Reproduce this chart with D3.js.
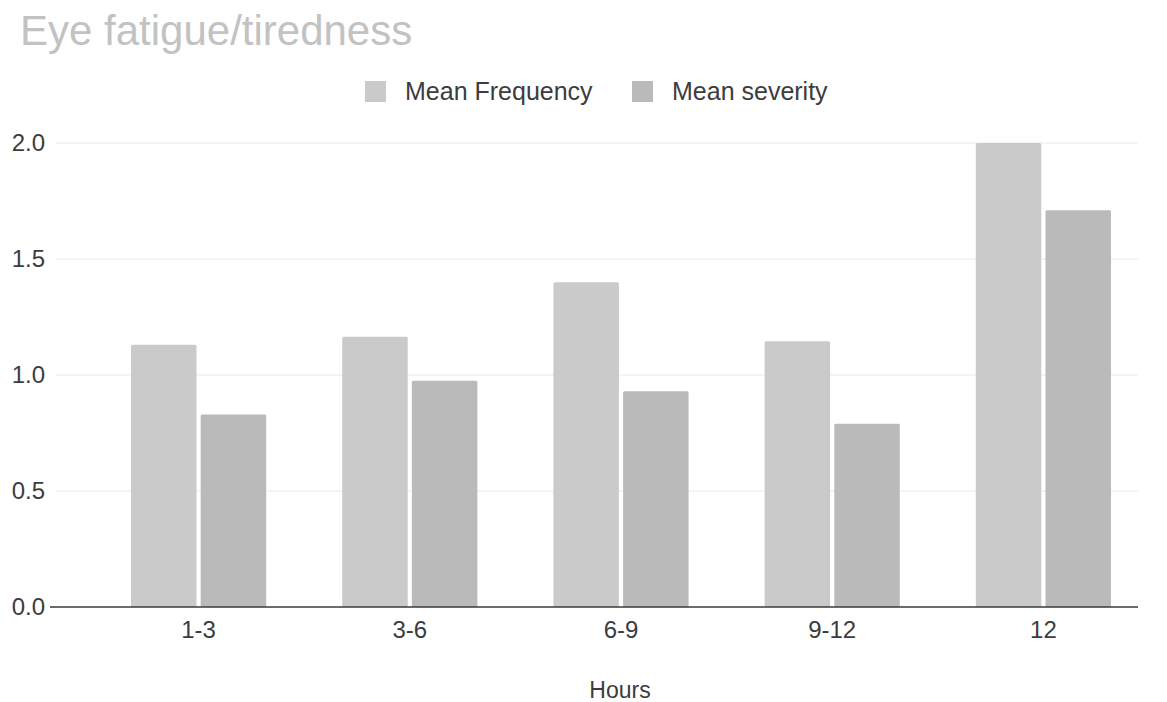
<!DOCTYPE html>
<html>
<head>
<meta charset="utf-8">
<script src="https://cdn.jsdelivr.net/npm/d3@7"></script>
<style>
  body { margin: 0; background: #fff; }
  svg { display: block; font-family: 'Liberation Sans', Arial, sans-serif; }
</style>
</head>
<body>
<svg id="chart" width="1167" height="702"></svg>
<script>
const categories = ['1-3', '3-6', '6-9', '9-12', '12'];
const seriesNames = ['Mean Frequency', 'Mean severity'];
const meanFrequency = [1.13, 1.165, 1.40, 1.145, 2.0];
const meanSeverity = [0.83, 0.975, 0.93, 0.79, 1.71];
const yTicks = [0, 0.5, 1.0, 1.5, 2.0];
const colors = ['#cacaca', '#bababa'];

const svg = d3.select('#chart');
const plot = { left: 56, right: 1138, top: 143, bottom: 607 };

const rows = categories.map((c, i) => ({ cat: c, values: [meanFrequency[i], meanSeverity[i]] }));

const y = d3.scaleLinear().domain([0, 2]).range([plot.bottom, plot.top]);
const x0 = d3.scaleBand()
    .domain(categories)
    .range([93, 1149])
    .paddingInner(0.36)
    .paddingOuter(0.18);
const x1 = d3.scaleBand()
    .domain([0, 1])
    .range([0, x0.bandwidth()])
    .paddingInner(0.06);

// title
svg.append('text')
    .attr('x', 20)
    .attr('y', 45)
    .style('fill', '#c2c2c2')
    .style('font-size', '42px')
    .text('Eye fatigue/tiredness');

// gridlines
svg.append('g')
    .selectAll('line')
    .data(yTicks.filter(d => d > 0))
    .join('line')
    .attr('x1', plot.left)
    .attr('x2', plot.right)
    .attr('y1', d => y(d))
    .attr('y2', d => y(d))
    .attr('stroke', '#e9e9e9')
    .attr('stroke-width', 1);

// y axis labels
const yAxis = svg.append('g')
    .attr('transform', `translate(45,0)`)
    .call(d3.axisLeft(y).tickValues(yTicks).tickFormat(d3.format('.1f')).tickSize(0).tickPadding(0));
yAxis.select('.domain').remove();
yAxis.selectAll('.tick text')
    .style('fill', '#3c3c3c')
    .style('font-size', '24px')
    .style('font-family', "'Liberation Sans', Arial, sans-serif")
    .attr('dy', '0.3em');

// bars
svg.append('g')
    .selectAll('g')
    .data(rows)
    .join('g')
    .attr('transform', d => `translate(${x0(d.cat)},0)`)
    .selectAll('rect')
    .data(d => d.values.map((v, i) => ({ v, i })))
    .join('rect')
    .attr('x', d => x1(d.i))
    .attr('y', d => y(d.v))
    .attr('width', x1.bandwidth())
    .attr('height', d => plot.bottom - y(d.v))
    .attr('rx', 1.5)
    .attr('fill', d => colors[d.i]);

// baseline
svg.append('line')
    .attr('x1', 50)
    .attr('x2', plot.right)
    .attr('y1', y(0))
    .attr('y2', y(0))
    .attr('stroke', '#3a3a3a')
    .attr('stroke-width', 1.5);

// x axis labels
const xAxis = svg.append('g')
    .attr('transform', `translate(0,${plot.bottom})`)
    .call(d3.axisBottom(x0).tickSize(0).tickPadding(14));
xAxis.select('.domain').remove();
xAxis.selectAll('.tick text')
    .style('fill', '#3c3c3c')
    .style('font-size', '24px')
    .style('font-family', "'Liberation Sans', Arial, sans-serif");

// x axis title
svg.append('text')
    .attr('x', 620)
    .attr('y', 698)
    .attr('text-anchor', 'middle')
    .style('fill', '#3c3c3c')
    .style('font-size', '23px')
    .text('Hours');

// legend
const legendX = [365, 632];
const legend = svg.append('g')
    .selectAll('g')
    .data(seriesNames)
    .join('g')
    .attr('transform', (d, i) => `translate(${legendX[i]},81)`);
legend.append('rect')
    .attr('width', 21)
    .attr('height', 21)
    .attr('fill', (d, i) => colors[i]);
legend.append('text')
    .attr('x', 40)
    .attr('y', 19)
    .style('fill', '#3c3c3c')
    .style('font-size', '25px')
    .text(d => d);
</script>
</body>
</html>
